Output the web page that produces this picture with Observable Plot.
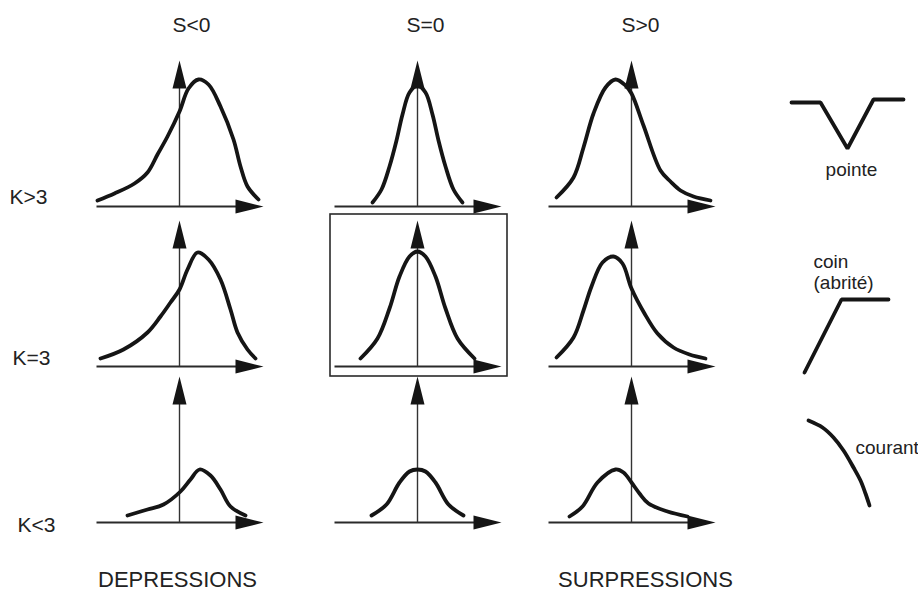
<!DOCTYPE html>
<html>
<head>
<meta charset="utf-8">
<script src="https://cdn.jsdelivr.net/npm/d3@7"></script>
<script src="https://cdn.jsdelivr.net/npm/@observablehq/plot@0.6"></script>
<style>
  html, body { margin: 0; padding: 0; background: #fff; }
  #chart svg { display: block; }
</style>
</head>
<body>
<div id="chart"></div>
<script>
// Column and row headings
const skewLabels = ["S<0", "S=0", "S>0"];
const kurtLabels = ["K>3", "K=3", "K<3"];
const footLabels = ["DEPRESSIONS", "SURPRESSIONS"];
const profileLabels = ["pointe", "coin", "(abrité)", "courant"];

// Density profiles: [offset from the vertical axis, height above the horizontal axis]
// Negative skewness (long left tail)
const negSkewHighK = [[-82,6],[-65,13],[-45,23],[-32,34],[-22,52],[-12,70],[0,95],[9,118],[19,127],[29,122],[41,100],[54,67],[61,40],[68,20],[79,7]];
const negSkewNormK = [[-79,8],[-56,17],[-32,34],[-19,50],[-9,64],[0,77],[8,97],[18,114],[29,107],[41,87],[51,57],[58,34],[68,17],[76,8]];
const negSkewLowK  = [[-52,7],[-32,13],[-16,18],[1,31],[11,43],[20,53],[31,47],[41,33],[51,16],[66,7]];
// Zero skewness (symmetric)
const zeroSkewHighK = [[-45,4],[-36,17],[-28,40],[-21,66],[-15,92],[-8,114],[0,121],[8,114],[15,92],[21,66],[28,40],[36,17],[45,4]];
const zeroSkewNormK = [[-57,8],[-40,28],[-28,58],[-18,90],[-8,110],[0,115],[8,110],[18,90],[28,58],[40,28],[57,8]];
const zeroSkewLowK  = [[-46,7],[-31,18],[-18,40],[-8,51],[0,53],[8,51],[18,40],[31,18],[46,7]];
// Positive skewness (long right tail)
const posSkewHighK = [[-75,9],[-58,29],[-48,59],[-38,93],[-26,119],[-16,127],[-6,121],[0,113],[12,81],[29,36],[39,25],[49,16],[62,10],[79,6]];
const posSkewNormK = [[-75,9],[-58,29],[-48,56],[-40,80],[-29,104],[-18,110],[-9,103],[0,78],[13,53],[26,33],[42,19],[58,12],[74,8]];
const posSkewLowK  = [[-62,6],[-49,16],[-34,40],[-16,53],[-8,50],[0,40],[8,29],[17,19],[36,11],[56,6]];

// Surface profiles drawn beside the grid
const pointeProfile  = [[791,102],[820,102],[847,148],[873,99],[903,99]];
const coinProfile    = [[804,372],[841,299],[888,299]];
const courantProfile = [[808,420],[822,427],[833,437],[843,450],[853,467],[860,480],[865,493],[869,505]];

// Grid: rows by kurtosis, columns by skewness
const grid = [
  [negSkewHighK, zeroSkewHighK, posSkewHighK],
  [negSkewNormK, zeroSkewNormK, posSkewNormK],
  [negSkewLowK,  zeroSkewLowK,  posSkewLowK]
];

// ---- layout ----
const W = 918, H = 594;
const colX = [179, 417, 631];          // vertical axis of each column
const rowY = [206, 366, 522];          // horizontal axis of each row
const axisLeft = 83, axisRight = 84, axisUp = 146;
const ink = "#151515";
const font = "Liberation Sans, Arial, Helvetica, sans-serif";

const panels = [];
kurtLabels.forEach((k, r) => skewLabels.forEach((s, c) => panels.push({r, c, ox: colX[c], oy: rowY[r]})));

const curveTable = [];
panels.forEach(p => grid[p.r][p.c].forEach(([dx, h]) =>
  curveTable.push({id: `${p.r}-${p.c}`, x: p.ox + dx, y: p.oy - h})));

const profileTable = [];
[["pointe", pointeProfile], ["coin", coinProfile]].forEach(([id, pts]) =>
  pts.forEach(([x, y]) => profileTable.push({id, x, y})));
const courantTable = courantProfile.map(([x, y]) => ({x, y}));

// Filled arrowhead, tip at the origin, pointing up
const arrowHead = {
  draw(context) {
    const L = 28, w = 7;
    context.moveTo(0, 0);
    context.lineTo(w, L);
    context.lineTo(-w, L);
    context.closePath();
  }
};

const hAxes = panels.map(p => ({x1: p.ox - axisLeft, x2: p.ox + axisRight - 10, y: p.oy}));
const vAxes = panels.map(p => ({x: p.ox, y1: p.oy, y2: p.oy - axisUp + 10}));
const hHeads = panels.map(p => ({x: p.ox + axisRight, y: p.oy}));
const vHeads = panels.map(p => ({x: p.ox, y: p.oy - axisUp}));

const normalBox = [{x1: colX[1] - 87, x2: colX[1] + 90, y1: rowY[1] - 152, y2: rowY[1] + 10}];

const topText  = skewLabels.map((t, i) => ({t, x: [191, 425, 640][i], y: 25}));
const sideText = kurtLabels.map((t, i) => ({t, x: [47, 50, 55][i], y: [197, 358, 525][i]}));
const footText = footLabels.map((t, i) => ({t, x: [177, 645][i], y: 579}));
const profText = profileLabels.map((t, i) => ({t,
  x: [851, 813, 813, 855][i], y: [169, 261, 282, 447][i], anchor: i === 0 ? "middle" : "start"}));

const chart = Plot.plot({
  width: W,
  height: H,
  margin: 0,
  x: {domain: [0, W], range: [0, W], axis: null},
  y: {domain: [0, H], range: [0, H], axis: null},
  style: {background: "#fff", fontFamily: font},
  marks: [
    Plot.rect(normalBox, {x1: "x1", x2: "x2", y1: "y1", y2: "y2", fill: "none", stroke: "#2a2a2a", strokeWidth: 1.6}),
    Plot.link(hAxes, {x1: "x1", x2: "x2", y1: "y", y2: "y", stroke: "#2a2a2a", strokeWidth: 2}),
    Plot.link(vAxes, {x1: "x", x2: "x", y1: "y1", y2: "y2", stroke: "#333", strokeWidth: 1.4}),
    Plot.line(curveTable, {x: "x", y: "y", z: "id", curve: "catmull-rom", stroke: ink, strokeWidth: 3.8,
      strokeLinecap: "round", strokeLinejoin: "round"}),
    Plot.dot(vHeads, {x: "x", y: "y", symbol: arrowHead, r: 5, fill: ink, stroke: null}),
    Plot.dot(hHeads, {x: "x", y: "y", symbol: arrowHead, rotate: 90, r: 5, fill: ink, stroke: null}),
    Plot.line(profileTable, {x: "x", y: "y", z: "id", stroke: ink, strokeWidth: 3.8, strokeLinejoin: "miter"}),
    Plot.line(courantTable, {x: "x", y: "y", curve: "catmull-rom", stroke: ink, strokeWidth: 3.8}),
    Plot.text(topText, {x: "x", y: "y", text: "t", fontSize: 21, fill: "#222", fontFamily: font}),
    Plot.text(sideText, {x: "x", y: "y", text: "t", fontSize: 21, fill: "#222", textAnchor: "end", fontFamily: font}),
    Plot.text(footText, {x: "x", y: "y", text: "t", fontSize: 22, fill: "#222", fontFamily: font}),
    Plot.text(profText.filter(d => d.anchor === "middle"), {x: "x", y: "y", text: "t", fontSize: 19, fill: "#222", fontFamily: font}),
    Plot.text(profText.filter(d => d.anchor === "start"), {x: "x", y: "y", text: "t", fontSize: 19, fill: "#222", textAnchor: "start", fontFamily: font})
  ]
});

document.getElementById("chart").append(chart);
</script>
</body>
</html>
